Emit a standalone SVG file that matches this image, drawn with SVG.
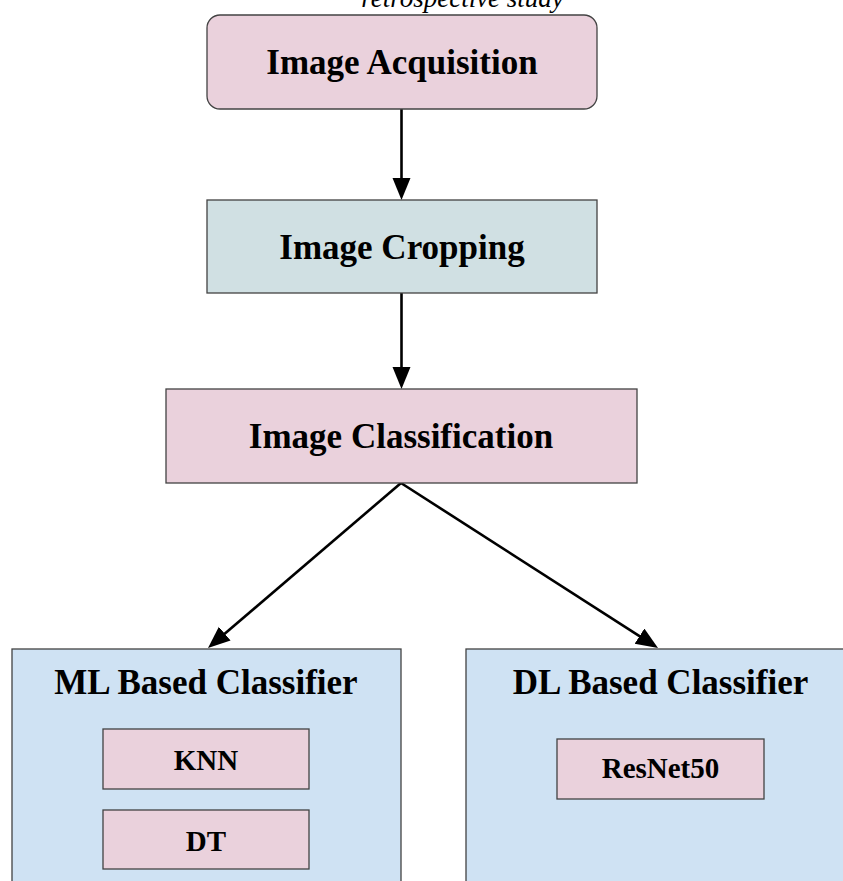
<svg xmlns="http://www.w3.org/2000/svg" width="843" height="881" viewBox="0 0 843 881">
<style>
.box{stroke:#434343;stroke-width:1.3}
.pink{fill:#ead1dc}
.teal{fill:#d0e0e3}
.blue{fill:#cfe2f3}
.t{font-family:"Liberation Serif","Times New Roman",serif;font-weight:bold;fill:#000;text-anchor:middle}
.big{font-size:35px}
.small{font-size:29px}
.conn{stroke:#000;stroke-width:2.6;fill:none}
</style>
<defs>
<marker id="ah" markerUnits="userSpaceOnUse" markerWidth="24" markerHeight="20" refX="12" refY="9" orient="auto" viewBox="0 0 24 20">
<path d="M0,0 L22,9 L0,18 z" fill="#000"/>
</marker>
</defs>
<rect width="843" height="881" fill="#fff"/>
<text x="462.5" y="6.5" font-family="Liberation Serif,serif" font-style="italic" font-size="27" text-anchor="middle">retrospective study</text>
<g id="connectors">
<line class="conn" x1="401.5" y1="109" x2="401.5" y2="190" marker-end="url(#ah)"/>
<line class="conn" x1="401.5" y1="293" x2="401.5" y2="379" marker-end="url(#ah)"/>
<line class="conn" x1="401" y1="483" x2="215.6" y2="641.5" marker-end="url(#ah)"/>
<line class="conn" x1="401" y1="483" x2="649.6" y2="642.6" marker-end="url(#ah)"/>
</g>
<g id="acquisition">
<rect class="box pink" x="207" y="15" width="390" height="94" rx="13"/>
<text class="t big" x="402" y="74">Image Acquisition</text>
</g>
<g id="cropping">
<rect class="box teal" x="207" y="200" width="390" height="93"/>
<text class="t big" x="402" y="259">Image Cropping</text>
</g>
<g id="classification">
<rect class="box pink" x="166" y="389" width="471" height="94"/>
<text class="t big" x="401" y="448">Image Classification</text>
</g>
<g id="ml">
<rect class="box blue" x="12" y="649" width="389" height="250"/>
<text class="t big" x="206" y="694">ML Based Classifier</text>
</g>
<g id="knn">
<rect class="box pink" x="103" y="729" width="206" height="60"/>
<text class="t small" x="206" y="770">KNN</text>
</g>
<g id="dt">
<rect class="box pink" x="103" y="810" width="206" height="59"/>
<text class="t small" x="206" y="851">DT</text>
</g>
<g id="dl">
<rect class="box blue" x="466" y="649" width="389" height="250"/>
<text class="t big" x="660.5" y="694">DL Based Classifier</text>
</g>
<g id="resnet">
<rect class="box pink" x="557" y="739" width="207" height="60"/>
<text class="t small" x="660.5" y="778">ResNet50</text>
</g>
</svg>
